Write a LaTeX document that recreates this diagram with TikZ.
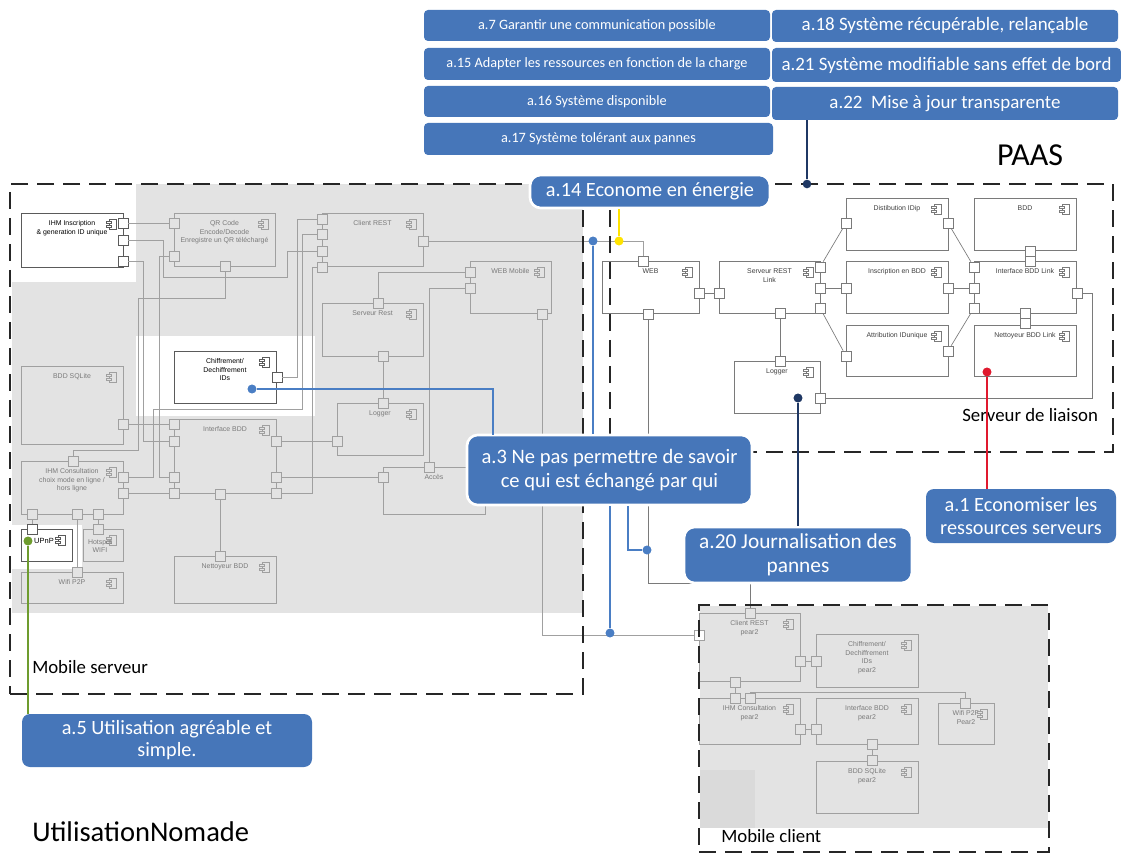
\documentclass[tikz,border=0pt]{standalone}
\usepackage{fontspec}
\setmainfont{Carlito}
\newfontfamily\arialf{Liberation Sans}
\usetikzlibrary{fit,calc}
\definecolor{bgG}{HTML}{E3E3E3}
\definecolor{bgD}{HTML}{DADADA}
\definecolor{gStroke}{HTML}{A0A0A0}
\definecolor{gText}{HTML}{7A7A7A}
\definecolor{pStroke}{HTML}{7A7A7A}
\definecolor{pText}{HTML}{3F3F3F}
\definecolor{wStroke}{HTML}{5A5A5A}
\definecolor{cBlue}{HTML}{4676B9}
\definecolor{lBlue}{HTML}{4A7EC4}
\definecolor{navy}{HTML}{1F3864}
\definecolor{yel}{HTML}{FFE300}
\definecolor{redd}{HTML}{E0192E}
\definecolor{grn}{HTML}{6E9C2E}
\newcommand{\comp}[5]{%
  \node[#1, fit={#3 #4}] (#2) {};
  \node[#1lab] (#2-t) at ([yshift=-5.6pt]#2.north) {#5};
  \begin{scope}[shift={(#2.north east)}, shift={(-11,11)}]
    \draw[#1icon] (-3,-5) rectangle (4,5);
    \draw[#1icon] (-5.5,-3.2) rectangle (-0.5,-0.8);
    \draw[#1icon] (-5.5,0.8) rectangle (-0.5,3.2);
  \end{scope}}
\newcommand{\callout}[6][]{%
  \node[callbox, #1, fit={#3 #4}] (#2) {};
  \node[calltxt, #5] (#2-t) at (#2.center) {#6};}
\begin{document}
\begin{tikzpicture}[x=0.75pt,y=-0.75pt,
  gcomp/.style={draw=gStroke, fill=bgG, line width=0.5pt, inner sep=0pt, outer sep=0pt},
  gcomplab/.style={text=gText, font=\arialf\fontsize{5.2}{6.4}\selectfont, align=center, anchor=north, inner sep=0pt},
  gcompicon/.style={draw=gStroke, fill=bgG, line width=0.4pt},
  wcomp/.style={draw=wStroke, fill=white, line width=0.6pt, inner sep=0pt, outer sep=0pt},
  wcomplab/.style={text=black, font=\arialf\fontsize{5.2}{6.4}\selectfont, align=center, anchor=north, inner sep=0pt},
  wcompicon/.style={draw=wStroke, fill=white, line width=0.4pt},
  pcomp/.style={draw=pStroke, fill=white, line width=0.6pt, inner sep=0pt, outer sep=0pt},
  pcomplab/.style={text=pText, font=\arialf\fontsize{5.2}{6.4}\selectfont, align=center, anchor=north, inner sep=0pt},
  pcompicon/.style={draw=pStroke, fill=white, line width=0.4pt},
  gport/.style={draw=gStroke, fill=bgG, minimum size=7.5pt, inner sep=0pt, line width=0.5pt},
  wport/.style={draw=wStroke, fill=white, minimum size=7.5pt, inner sep=0pt, line width=0.5pt},
  pport/.style={draw=pStroke, fill=white, minimum size=7.5pt, inner sep=0pt, line width=0.5pt},
  gwire/.style={draw=gStroke, line width=0.5pt},
  pwire/.style={draw=pStroke, line width=0.5pt},
  dbox/.style={draw=black!85, line width=2.2pt, dash pattern=on 12.5pt off 7pt, inner sep=0pt},
  callbox/.style={fill=cBlue, rounded corners=3pt, inner sep=0pt},
  wborder/.style={draw=white, line width=2pt, rounded corners=8pt},
  calltxt/.style={text=white, align=center, inner sep=0pt},
  plain/.style={anchor=west, inner sep=0pt},
  bline/.style={draw=lBlue, line width=1pt},
  dotn/.style={circle, minimum size=6.5pt, inner sep=0pt}
]
\useasboundingbox (0,0) rectangle (1121,855);
% ---------- backgrounds
\fill[bgG] (12,184) rectangle (583,613);
\fill[white] (12,184) rectangle (136,282);
\fill[white] (136,336) rectangle (315,416);
\fill[white] (12,525) rectangle (82,569);
\fill[bgG] (700,606) rectangle (1048,828);
\fill[bgD] (700,770) rectangle (755,828);

% ---------- Mobile serveur components
\comp{wcomp}{ihmI}{(21,213)}{(123,267)}{IHM Inscription\\\& generation ID unique}
\comp{gcomp}{qr}{(174,213)}{(275,266)}{QR Code\\Encode/Decode\\Enregistre un QR téléchargé}
\comp{gcomp}{crest}{(322,213)}{(423,266)}{Client REST}
\comp{gcomp}{webm}{(470,261)}{(551,313)}{WEB Mobile}
\comp{gcomp}{srest}{(322,303)}{(423,356)}{Serveur Rest}
\comp{gcomp}{logM}{(337,403)}{(423,455)}{Logger}
\comp{gcomp}{acces}{(383,467)}{(485,514)}{Accès}
\comp{wcomp}{chiff}{(174,351)}{(276,403)}{Chiffrement/\\Dechiffrement\\IDs}
\comp{gcomp}{bddS}{(21,366)}{(123,444)}{BDD SQLite}
\comp{gcomp}{ibd}{(174,419)}{(276,493)}{Interface BDD}
\comp{gcomp}{ihmC}{(21,461)}{(123,514)}{IHM Consultation\\choix mode en ligne /\\hors ligne}
\comp{wcomp}{upnp}{(21,529)}{(72,561)}{}
\node[wcomplab, font=\arialf\fontsize{5.6}{6.5}\selectfont, anchor=center] (upnpT) at (44,541) {UPnP};
\comp{gcomp}{hots}{(83,529)}{(123,561)}{}
\node[gcomplab, anchor=center] (hotsT) at (100,546) {Hotspot\\WIFI};
\comp{gcomp}{wifi}{(21,572)}{(123,603)}{Wifi P2P}
\comp{gcomp}{nett}{(174,556)}{(276,603)}{Nettoyeur BDD}

% ports
\node[wport] (pI1) at (123,223) {};
\node[wport] (pI2) at (123,240) {};
\node[wport] (pI3) at (123,261) {};
\node[gport] (qL1) at (174,223) {};
\node[gport] (qL2) at (174,256) {};
\node[gport] (qB) at (225,266) {};
\node[gport] (cL1) at (322,219) {};
\node[gport] (cL2) at (322,234) {};
\node[gport] (cL3) at (322,251) {};
\node[gport] (cL4) at (322,267) {};
\node[gport] (cR) at (423,241) {};
\node[gport] (wL1) at (470,272) {};
\node[gport] (wL2) at (470,288) {};
\node[gport] (wB) at (542,314) {};
\node[gport] (sT) at (378,303) {};
\node[gport] (sB) at (383,356) {};
\node[gport] (lT) at (383,403) {};
\node[gport] (lL) at (337,441) {};
\node[gport] (aT) at (429,467) {};
\node[gport] (aL) at (383,477) {};
\node[wport] (chR) at (277,377) {};
\node[gport] (bR) at (123,424) {};
\node[gport] (iL1) at (174,424) {};
\node[gport] (iL2) at (174,441) {};
\node[gport] (iL3) at (174,477) {};
\node[gport] (iL4) at (174,493) {};
\node[gport] (iR1) at (276,441) {};
\node[gport] (iR2) at (276,477) {};
\node[gport] (iR3) at (276,493) {};
\node[gport] (iB) at (220,494) {};
\node[gport] (hT) at (73,461) {};
\node[gport] (hR1) at (123,477) {};
\node[gport] (hR2) at (123,493) {};
\node[gport] (hB1) at (32,514) {};
\node[gport] (hB2) at (77,514) {};
\node[gport] (hB3) at (98,514) {};
\node[wport] (uT) at (32,529) {};
\node[gport] (htT) at (98,529) {};
\node[gport] (wfT) at (77,572) {};
\node[gport] (nT) at (220,556) {};

% wires mobile serveur
\draw[gwire] (pI1) -- (qL1);
\draw[gwire] (pI2) -| (163,277) -| (287,251) -- (cL3);
\draw[gwire] (pI3) -| (143,441) -- (iL2);
\draw[gwire] (qB) |- (138,298) |- (73,450) -- (hT);
\draw[gwire] (qL2) -| (159,477) -- (iL3);
\draw[gwire] (cL1) -| (297,377) -- (chR);
\draw[gwire] (cL2) -| (302,409) -| (153,477) -- (hR1);
\draw[gwire] (cL4) -| (312,493) -- (iR3);
\draw[gwire] (bR) -- (iL1);
\draw[gwire] (hR2) -- (iL4);
\draw[gwire] (iR1) -- (lL);
\draw[gwire] (iR2) -- (aL);
\draw[gwire] (iB) -- (nT);
\draw[gwire] (wL1) -| (sT);
\draw[gwire] (wL2) -| (aT);
\draw[gwire] (sB) -- (lT);
\draw[gwire] (hB1) -- (uT);
\draw[gwire] (hB2) -- (wfT);
\draw[gwire] (hB3) -- (htT);

% ---------- PAAS components
\comp{pcomp}{web}{(602,261)}{(699,313)}{WEB}
\comp{pcomp}{srl}{(719,261)}{(820,313)}{Serveur REST\\Link}
\comp{pcomp}{logP}{(734,361)}{(820,413)}{Logger}
\comp{pcomp}{dist}{(846,198)}{(948,250)}{Distibution IDip}
\comp{pcomp}{insc}{(846,261)}{(948,313)}{Inscription en BDD}
\comp{pcomp}{attr}{(846,325)}{(948,376)}{Attribution IDunique}
\comp{pcomp}{bdd}{(974,198)}{(1076,250)}{BDD}
\comp{pcomp}{ibl}{(974,261)}{(1076,313)}{Interface BDD Link}
\comp{pcomp}{nbl}{(974,325)}{(1076,376)}{Nettoyeur BDD Link}

\node[pport] (wT) at (643,261) {};
\node[pport] (wR) at (699,293) {};
\node[pport] (wBo) at (648,314) {};
\node[pport] (sL) at (719,293) {};
\node[pport] (sR1) at (820,267) {};
\node[pport] (sR2) at (820,288) {};
\node[pport] (sR3) at (820,308) {};
\node[pport] (sBo) at (780,313) {};
\node[pport] (lpT) at (780,361) {};
\node[pport] (lpR) at (820,398) {};
\node[pport] (dL) at (846,223) {};
\node[pport] (dR) at (948,223) {};
\node[pport] (inL) at (846,288) {};
\node[pport] (inR) at (948,288) {};
\node[pport] (atL) at (846,356) {};
\node[pport] (atR) at (948,351) {};
\node[pport] (bdB) at (1030,251) {};
\node[pport] (ibT) at (1030,261) {};
\node[pport] (ibL1) at (974,267) {};
\node[pport] (ibL2) at (974,288) {};
\node[pport] (ibL3) at (974,308) {};
\node[pport] (ibR) at (1077,293) {};
\node[pport] (ibB) at (1025,313) {};
\node[pport] (nbT) at (1025,323) {};

\draw[pwire] (wR) -- (sL);
\draw[pwire] (sBo) -- (lpT);
\draw[pwire] (sR1) -- (dL);
\draw[pwire] (sR2) -- (inL);
\draw[pwire] (sR3) -- (atL);
\draw[pwire] (dR) -- (ibL1);
\draw[pwire] (inR) -- (ibL2);
\draw[pwire] (atR) -- (ibL3);
\draw[pwire] (ibR) -| (1092,398) -- (lpR);

% ---------- Mobile client components
\comp{gcomp}{mcrest}{(699,613)}{(800,681)}{Client REST\\pear2}
\comp{gcomp}{mcchif}{(816,634)}{(918,687)}{Chiffrement/\\Dechiffrement\\IDs\\pear2}
\comp{gcomp}{mcihm}{(699,698)}{(800,744)}{IHM Consultation\\pear2}
\comp{gcomp}{mcibd}{(816,698)}{(918,744)}{Interface BDD\\pear2}
\comp{gcomp}{mcbdd}{(816,761)}{(918,813)}{BDD SQLite\\pear2}
\comp{gcomp}{mcwifi}{(938,703)}{(994,744)}{Wifi P2P\\Pear2}

\node[gport] (mcT) at (750,613) {};
\node[gport, fill=white] (mcL) at (699,635) {};
\node[gport] (mcR) at (800,661) {};
\node[gport] (mcB) at (735,682) {};
\node[gport] (mccL) at (816,661) {};
\node[gport] (mihT1) at (735,698) {};
\node[gport] (mihT2) at (750,698) {};
\node[gport] (mihR) at (800,729) {};
\node[gport] (mibL) at (816,729) {};
\node[gport] (mibB) at (872,744) {};
\node[gport] (mbT) at (872,760) {};
\node[gport] (mwT) at (965,703) {};

\draw[gwire] (mcR) -- (mccL);
\draw[gwire] (mcB) -- (mihT1);
\draw[gwire] (mihT2.north) -| (mwT.north);
\draw[gwire] (mihR) -- (mibL);
\draw[gwire] (mibB) -- (mbT);

% ---------- cross wires
\draw[gwire] (cR) -| (wT);
\draw[gwire] (wB) |- (mcL);
\draw[pwire] (wBo) |- (mcT |- 0,583) -- (mcT);

% ---------- dashed frames
\node[dbox, fit={(10,184)(583,694)}] (msBox) {};
\node[dbox, fit={(610,184)(1113,452)}] (paasBox) {};
\node[dbox, fit={(699,605)(1049,852)}] (mcBox) {};

% ---------- plain texts
\node[plain, font=\fontsize{14.1}{16}\selectfont] (msLab) at (32,667) {Mobile serveur};
\node[plain, font=\fontsize{14.1}{16}\selectfont] (mcLab) at (721,836) {Mobile client};
\node[plain, font=\fontsize{14.1}{16}\selectfont] (slLab) at (962,415) {Serveur de liaison};
\node[plain, font=\fontsize{21.4}{24}\selectfont] (unLab) at (32,832) {UtilisationNomade};
\node[font=\fontsize{24}{26}\selectfont, inner sep=0pt] (paasLab) at (1030,155) {PAAS};

% ---------- callouts
\callout{a7}{(424,10)}{(770,41)}{font=\fontsize{10.7}{12}\selectfont}{a.7 Garantir une communication possible}
\callout{a15}{(424,48)}{(770,80)}{font=\fontsize{10.7}{12}\selectfont}{a.15 Adapter les ressources en fonction de la charge}
\callout{a16}{(424,86)}{(770,117)}{font=\fontsize{10.7}{12}\selectfont}{a.16 Système disponible}
\callout{a17}{(424,123)}{(773,155)}{font=\fontsize{10.7}{12}\selectfont}{a.17 Système tolérant aux pannes}
\callout{a18}{(772,10)}{(1118,42)}{font=\fontsize{14.2}{16}\selectfont}{a.18 Système récupérable, relançable}
\callout{a21}{(772,48)}{(1121,82)}{font=\fontsize{14.2}{16}\selectfont}{a.21 Système modifiable sans effet de bord}
\callout{a22}{(772,87)}{(1118,120)}{font=\fontsize{14.2}{16}\selectfont}{a.22\ \ Mise à jour transparente}

% colored connectors
\node[dotn, fill=navy] (nd1) at (807,184) {};
\draw[navy, line width=1pt] (a22.south -| nd1) -- (nd1);
\node[dotn, fill=lBlue] (bd1) at (593,241) {};
\node[dotn, fill=yel] (yd1) at (619,241) {};
\node[dotn, fill=lBlue] (bd2) at (252,389) {};
\node[dotn, fill=lBlue] (bd3) at (610,633) {};
\node[dotn, fill=lBlue] (bd4) at (647,550) {};
\node[dotn, fill=navy] (nd2) at (798,398) {};
\node[dotn, fill=redd] (rd1) at (987,372) {};
\node[dotn, fill=grn] (gd1) at (28,541) {};

\callout[wborder]{a3}{(467,435)}{(752,505)}{font=\fontsize{15.4}{18}\selectfont}{a.3 Ne pas permettre de savoir\\ce qui est échangé par qui}
\callout[wborder]{a14}{(530,175)}{(770,208)}{font=\fontsize{15.2}{17}\selectfont}{a.14 Econome en énergie}
\callout[wborder]{a20}{(684,527)}{(912,583)}{font=\fontsize{16}{18}\selectfont}{a.20 Journalisation des\\pannes}
\callout[rounded corners=6pt]{a1}{(926,489)}{(1116,543)}{font=\fontsize{15.2}{17.2}\selectfont}{a.1 Economiser les\\ressources serveurs}
\callout[rounded corners=6pt]{a5}{(22,714)}{(312,767)}{font=\fontsize{15.2}{16.5}\selectfont}{a.5 Utilisation agréable et\\simple.}

\draw[yel, line width=1pt] (a14.south -| yd1) -- (yd1);
\draw[bline] (bd1) -- (bd1 |- a3.north);
\draw[bline] (bd2) -| ([yshift=-1pt]a3.north -| 493,0);
\draw[bline] (a3.south -| bd3) -- (bd3);
\draw[bline] (a3.south -| 628,0) |- (bd4);
\draw[navy, line width=1pt] (nd2) -- (nd2 |- a20.north);
\draw[redd, line width=1pt] (rd1) -- (rd1 |- a1.north);
\draw[grn, line width=1pt] (gd1) -- (gd1 |- a5.north);
\node[dotn, fill=lBlue] at (bd1) {};
\node[dotn, fill=yel] at (yd1) {};
\node[dotn, fill=lBlue] at (bd2) {};
\node[dotn, fill=lBlue] at (bd3) {};
\node[dotn, fill=lBlue] at (bd4) {};
\node[dotn, fill=navy] at (nd2) {};
\node[dotn, fill=redd] at (rd1) {};
\node[dotn, fill=grn] at (gd1) {};
\end{tikzpicture}
\end{document}
